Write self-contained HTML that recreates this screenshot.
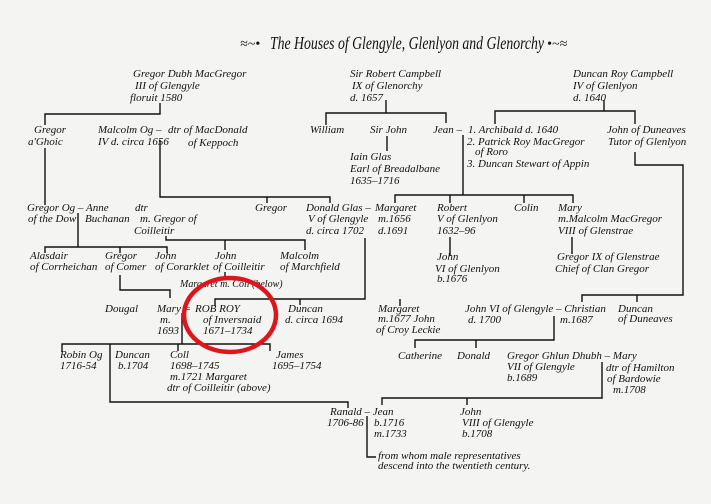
<!DOCTYPE html>
<html><head><meta charset="utf-8"><style>
html,body{margin:0;padding:0;background:#f4f4f2;}
svg{display:block}
text{font-family:"Liberation Serif",serif;font-style:italic;font-size:11px;fill:#111;}
.t{font-size:18px}
</style></head><body>
<svg width="711" height="504" viewBox="0 0 711 504" xmlns="http://www.w3.org/2000/svg">
<rect width="711" height="504" fill="#f4f4f2"/>
<text class="t" x="270" y="49" textLength="274" lengthAdjust="spacingAndGlyphs">The Houses of Glengyle, Glenlyon and Glenorchy</text>
<text x="240" y="48" style="font-size:14px">≈~•</text><text x="547" y="48" style="font-size:14px">•~≈</text>
<g stroke="#111" stroke-width="1.4" fill="none">
<path d="M160 103V114H45V125"/>
<path d="M45 148V205"/>
<path d="M160 140V197H330V203M267 197V203"/>
<path d="M78 213V247M45 253V247H167V253M120 247V253"/>
<path d="M166 236V240H305V250M225 240V250"/>
<path d="M386 100V113M326 125V113H446V123"/>
<path d="M387 136V151"/>
<path d="M463 135V195M395 203V195H573V203M450 195V203M524 195V203"/>
<path d="M604 100V111M495 124V111H635V124"/>
<path d="M635 152V165H683V295H582V302M637 295V302"/>
<path d="M450 237V256M572 237V254"/>
<path d="M365 238V299H215V306M400 299V306M300 299V305"/>
<path d="M554 316V340H415V348M476 340V348"/>
<path d="M120 275V290H170V298M225 272V278"/>
<path d="M182 313V344M62 352V344H270V351M110 344V402H348V408M178 344V351"/>
<path d="M602 362V398H382V405M467 398V405"/>
<path d="M367 416V457H376"/>
</g>
<text x="133" y="77">Gregor Dubh MacGregor</text><text x="135" y="89">III of Glengyle</text><text x="130" y="101">floruit 1580</text>
<text x="350" y="77">Sir Robert Campbell</text><text x="352" y="89">IX of Glenorchy</text><text x="350" y="101">d. 1657</text>
<text x="573" y="77">Duncan Roy Campbell</text><text x="573" y="89">IV of Glenlyon</text><text x="573" y="101">d. 1640</text>
<text x="34" y="133">Gregor</text><text x="28" y="145">a'Ghoic</text>
<text x="98" y="133">Malcolm Og –</text><text x="98" y="145">IV d. circa 1656</text>
<text x="168" y="133">dtr of MacDonald</text><text x="188" y="146">of Keppoch</text>
<text x="310" y="133">William</text><text x="370" y="133">Sir John</text><text x="433" y="133">Jean –</text>
<text x="468" y="133">1. Archibald d. 1640</text><text x="467" y="145">2. Patrick Roy MacGregor</text><text x="475" y="155">of Roro</text><text x="467" y="167">3. Duncan Stewart of Appin</text>
<text x="607" y="133">John of Duneaves</text><text x="608" y="145">Tutor of Glenlyon</text>
<text x="350" y="160">Iain Glas</text><text x="350" y="172">Earl of Breadalbane</text><text x="350" y="184">1635–1716</text>
<text x="27" y="211">Gregor Og – Anne</text><text x="28" y="222">of the Dow</text><text x="85" y="222">Buchanan</text>
<text x="135" y="211">dtr</text><text x="140" y="222">m. Gregor of</text><text x="134" y="234">Coilleitir</text>
<text x="255" y="211">Gregor</text>
<text x="306" y="211">Donald Glas –</text><text x="308" y="222">V of Glengyle</text><text x="306" y="234">d. circa 1702</text>
<text x="375" y="211">Margaret</text><text x="378" y="222">m.1656</text><text x="378" y="234">d.1691</text>
<text x="437" y="211">Robert</text><text x="437" y="222">V of Glenlyon</text><text x="437" y="234">1632–96</text>
<text x="514" y="211">Colin</text>
<text x="558" y="211">Mary</text><text x="558" y="222">m.Malcolm MacGregor</text><text x="558" y="234">VIII of Glenstrae</text>
<text x="30" y="259">Alasdair</text><text x="30" y="270">of Corrheichan</text>
<text x="105" y="259">Gregor</text><text x="105" y="270">of Comer</text>
<text x="155" y="259">John</text><text x="155" y="270">of Corarklet</text>
<text x="215" y="259">John</text><text x="213" y="270">of Coilleitir</text>
<text x="280" y="259">Malcolm</text><text x="280" y="270">of Marchfield</text>
<text x="437" y="260">John</text><text x="435" y="272">VI of Glenlyon</text><text x="437" y="282">b.1676</text>
<text x="557" y="260">Gregor IX of Glenstrae</text><text x="555" y="272">Chief of Clan Gregor</text>
<text x="180" y="287" style="font-size:10px">Margaret m. Coll (below)</text>
<text x="105" y="312">Dougal</text>
<text x="157" y="312">Mary =</text><text x="160" y="323">m.</text><text x="157" y="334">1693</text>
<text x="195" y="312">ROB ROY</text><text x="203" y="323">of Inversnaid</text><text x="203" y="334">1671–1734</text>
<text x="288" y="312">Duncan</text><text x="285" y="323">d. circa 1694</text>
<text x="378" y="312">Margaret</text><text x="378" y="322">m.1677 John</text><text x="376" y="333">of Croy Leckie</text>
<text x="465" y="312">John VI of Glengyle – Christian</text><text x="468" y="323">d. 1700</text><text x="560" y="323">m.1687</text>
<text x="618" y="312">Duncan</text><text x="618" y="322">of Duneaves</text>
<text x="60" y="358">Robin Og</text><text x="60" y="369">1716-54</text>
<text x="115" y="358">Duncan</text><text x="118" y="369">b.1704</text>
<text x="170" y="358">Coll</text><text x="170" y="369">1698–1745</text><text x="170" y="380">m.1721 Margaret</text><text x="167" y="391">dtr of Coilleitir (above)</text>
<text x="276" y="358">James</text><text x="272" y="369">1695–1754</text>
<text x="398" y="359">Catherine</text><text x="457" y="359">Donald</text>
<text x="507" y="359">Gregor Ghlun Dhubh – Mary</text><text x="507" y="370">VII of Glengyle</text><text x="507" y="381">b.1689</text>
<text x="606" y="371">dtr of Hamilton</text><text x="607" y="382">of Bardowie</text><text x="613" y="393">m.1708</text>
<text x="330" y="415">Ranald – Jean</text><text x="327" y="426">1706-86</text><text x="374" y="426">b.1716</text><text x="374" y="437">m.1733</text>
<text x="460" y="415">John</text><text x="462" y="426">VIII of Glengyle</text><text x="462" y="437">b.1708</text>
<text x="378" y="459">from whom male representatives</text><text x="378" y="469">descend into the twentieth century.</text>
<ellipse cx="230" cy="315" rx="46" ry="37" fill="none" stroke="#e0141b" stroke-width="4.5"/>
</svg>
</body></html>
